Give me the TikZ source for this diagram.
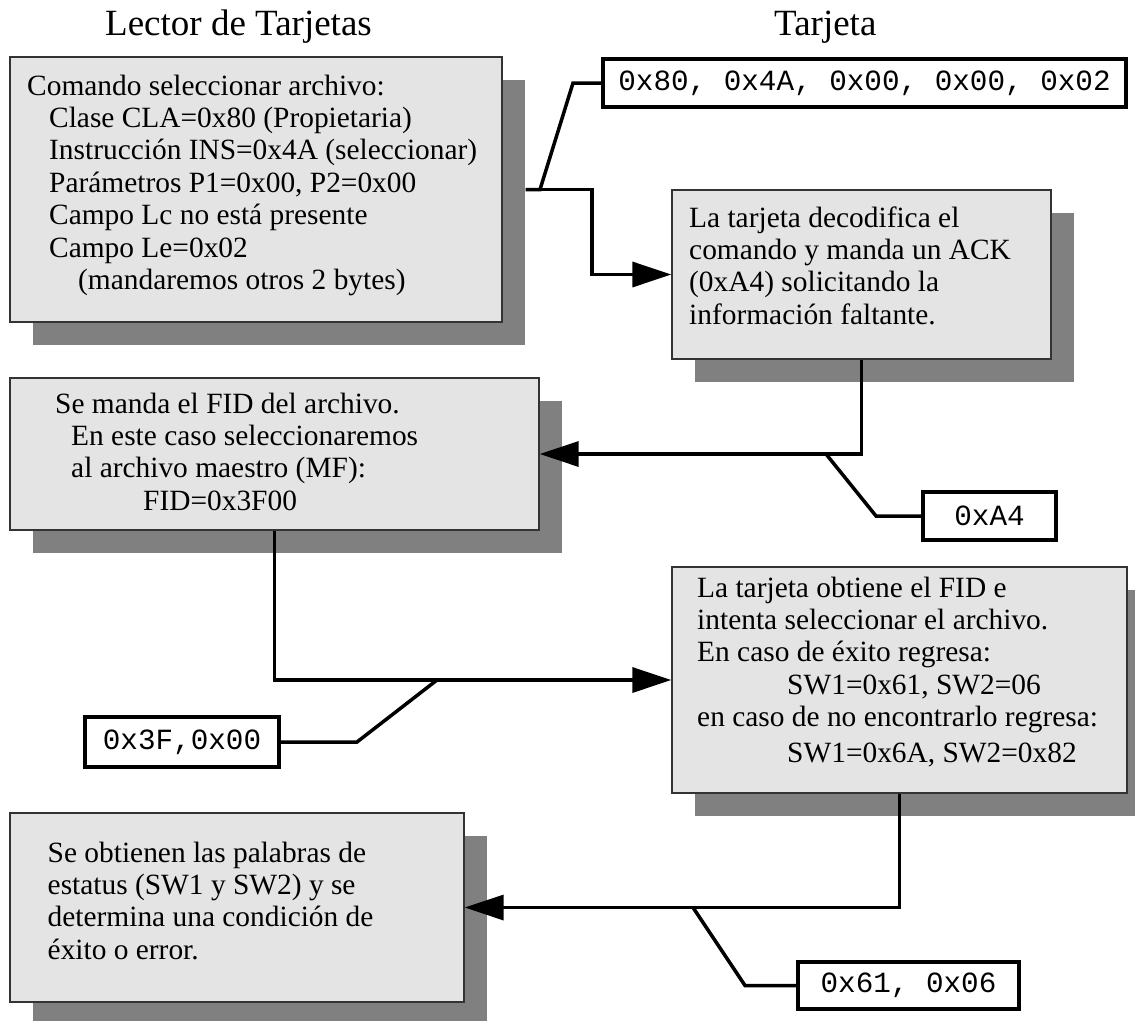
\documentclass[tikz,border=0pt]{standalone}
\usepackage{fontspec}
\setmainfont{Liberation Serif}
\setmonofont{Liberation Mono}
\usetikzlibrary{arrows.meta,shadows}

\definecolor{boxfill}{HTML}{E4E4E4}
\definecolor{shade}{HTML}{808080}
\definecolor{boxline}{HTML}{333333}

\tikzset{
  stepbox/.style={draw=boxline, line width=1.4pt, fill=boxfill, inner sep=0pt,
    drop shadow={shadow xshift=23pt, shadow yshift=-23pt, fill=shade, opacity=1}},
  bytebox/.style={draw=black, line width=4pt, fill=white, inner sep=0pt,
    font=\fontsize{29.3}{32}\ttfamily},
  body/.style={anchor=base west, inner sep=0pt, font=\fontsize{29.4}{32.4}\selectfont},
  heading/.style={anchor=base west, inner sep=0pt, font=\fontsize{37}{40}\selectfont},
  conn/.style={line width=3.5pt},
  flow/.style={conn, -{Triangle[length=39pt,width=25pt]}},
}

\begin{document}
\begin{tikzpicture}[x=1pt,y=-1pt]
\useasboundingbox (0,0) rectangle (1135,1020);

% column headings
\node[heading] (hreader) at (105,35) {Lector de Tarjetas};
\node[heading] (hcard) at (774,35) {Tarjeta};

% process boxes with drop shadows
\node[stepbox, minimum width=492pt, minimum height=265pt] (b1) at (256,189.5) {};
\node[stepbox, minimum width=379pt, minimum height=169pt] (b2) at (861.5,274.5) {};
\node[stepbox, minimum width=529pt, minimum height=152pt] (b3) at (274.5,454) {};
\node[stepbox, minimum width=455pt, minimum height=226pt] (b4) at (899.5,680) {};
\node[stepbox, minimum width=454pt, minimum height=189pt] (b5) at (237,907.5) {};

% box texts
\node[body] (t1) at (27,95) {\parbox[t]{480pt}{\raggedright
  Comando seleccionar archivo:\\
  \hspace*{22pt}Clase CLA=0x80 (Propietaria)\\
  \hspace*{22pt}Instrucción INS=0x4A (seleccionar)\\
  \hspace*{22pt}Parámetros P1=0x00, P2=0x00\\
  \hspace*{22pt}Campo Lc no está presente\\
  \hspace*{22pt}Campo Le=0x02\\
  \hspace*{51pt}(mandaremos otros 2 bytes)}};

\node[body] (t2) at (689,227) {\parbox[t]{360pt}{\raggedright
  La tarjeta decodifica el\\
  comando y manda un ACK\\
  (0xA4) solicitando la\\
  información faltante.}};

\node[body] (t3) at (55,413) {\parbox[t]{480pt}{\raggedright
  Se manda el FID del archivo.\\
  \hspace*{16pt}En este caso seleccionaremos\\
  \hspace*{16pt}al archivo maestro (MF):\\
  \hspace*{88pt}FID=0x3F00}};

\node[body] (t4) at (697,597) {\parbox[t]{430pt}{\raggedright
  La tarjeta obtiene el FID e\\
  intenta seleccionar el archivo.\\
  En caso de éxito regresa:\\
  \hspace*{90pt}SW1=0x61, SW2=06\\
  en caso de no encontrarlo regresa:\\[3pt]
  \hspace*{90pt}SW1=0x6A, SW2=0x82}};

\node[body] (t5) at (47.5,862) {\parbox[t]{400pt}{\raggedright
  Se obtienen las palabras de\\
  estatus (SW1 y SW2) y se\\
  determina una condición de\\
  éxito o error.}};

% byte frames
\node[bytebox, minimum width=523pt, minimum height=48pt] (m1) at (864.5,83) {0x80, 0x4A, 0x00, 0x00, 0x02};
\node[bytebox, minimum width=133pt, minimum height=48pt] (a1) at (989.5,516) {0xA4};
\node[bytebox, minimum width=194pt, minimum height=50pt] (a2) at (182,742) {0x3F,0x00};
\node[bytebox, minimum width=221pt, minimum height=47pt] (a3) at (908.5,985.5) {0x61, 0x06};

% connectors
\coordinate (j1) at (540,189.5);
\draw[conn] ([xshift=23pt]b1.east) -- (j1) -- (573,83) -- (m1.west);
\draw[flow] (j1) -- (592,189.5) |- (b2.west);

\draw[flow] (b2.south) |- (b3.east);
\coordinate (j2) at (826,454);
\draw[conn] (j2) -- (876,516) -- (a1.west);

\draw[flow] (b3.south) |- (b4.west);
\coordinate (j3) at (437,680);
\draw[conn] (j3) -- (357,742) -- (a2.east);

\draw[flow] (b4.south) |- (b5.east);
\coordinate (j4) at (693,907.5);
\draw[conn] (j4) -- (745,985.5) -- (a3.west);
\end{tikzpicture}
\end{document}
